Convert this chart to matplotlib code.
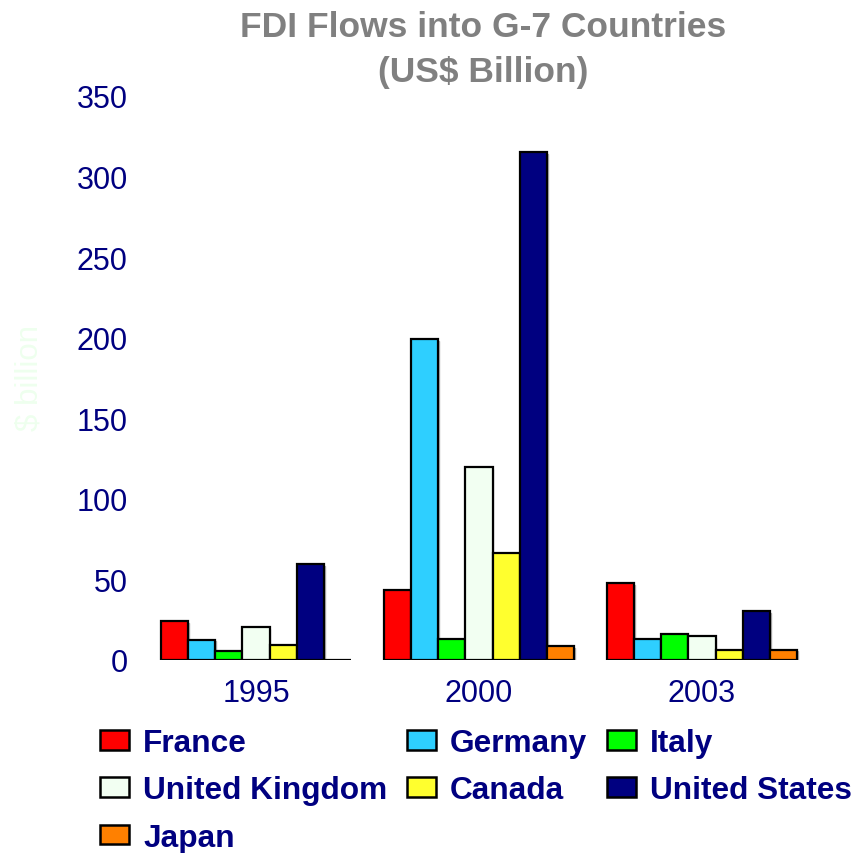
import matplotlib
matplotlib.use("Agg")
import matplotlib.pyplot as plt
import numpy as np
from matplotlib.patches import Patch

years = ["1995", "2000", "2003"]
countries = ["France", "Germany", "Italy", "United Kingdom", "Canada", "United States", "Japan"]
france = [24.1, 43.2, 47.5]
germany = [12.7, 199.0, 13.3]
italy = [5.3, 13.3, 16.4]
uk = [20.2, 119.5, 14.6]
canada = [9.6, 66.7, 6.5]
us = [59.3, 315.0, 30.1]
japan = [0.3, 8.4, 6.5]
series = [france, germany, italy, uk, canada, us, japan]
colors = ["#FF0000", "#2ECFFF", "#00FF00", "#F2FFF2", "#FFFF2E", "#000080", "#FF8000"]
yticks = [0, 50, 100, 150, 200, 250, 300, 350]

plt.rcParams['font.family'] = ['Liberation Sans', 'DejaVu Sans']
navy = "#000080"

fig = plt.figure(figsize=(8.59, 8.54), dpi=100)
ax = fig.add_axes([144.5/859, 1-661/854, 669/859, 564/854])

x = np.arange(len(years))
w = 0.1215
n = len(series)
for i, (vals, c) in enumerate(zip(series, colors)):
    xs = x + (i - (n-1)/2)*w
    ax.bar(xs + 0.004, vals, width=w, bottom=-1.0, color="#B0B0B0", edgecolor="#B0B0B0", linewidth=1.0, zorder=2)
    ax.bar(xs, vals, width=w, color=c, edgecolor="black", linewidth=1.6, zorder=3)

ax.set_xlim(-0.5, 2.5)
ax.set_ylim(0, 350)
ax.set_yticks(yticks)
ax.set_xticks(x)
ax.set_xticklabels(years)
for s in ax.spines.values():
    s.set_visible(False)
ax.tick_params(axis='y', length=0, pad=12, labelsize=22, labelcolor=navy)
ax.tick_params(axis='x', length=0, pad=13, labelsize=22, labelcolor=navy)

fig.text(483/859, 1-50/854, "FDI Flows into G-7 Countries\n(US$ Billion)", ha="center", va="center",
         fontsize=25.5, fontweight="bold", color="#808080", linespacing=1.45)
fig.text(30/859, 1-378/854, "$ billion", rotation=90, ha="center", va="center", fontsize=22.5, color="#EEFFEE")

order = [0, 3, 6, 1, 4, 2, 5]
handles = [Patch(facecolor=colors[i], edgecolor="black", linewidth=1.8) for i in order]
labels = [countries[i] for i in order]
leg = fig.legend(handles, labels, ncol=3, loc="upper left", bbox_to_anchor=(100/859, 1-729/854),
                 frameon=False, prop={'weight': 'bold', 'size': 22.8},
                 handlelength=0.92, handleheight=0.57, handletextpad=0.44, columnspacing=0.62,
                 labelspacing=0.55, borderpad=0, borderaxespad=0)
for t in leg.get_texts():
    t.set_color(navy)

fig.savefig("out.png", dpi=100)
